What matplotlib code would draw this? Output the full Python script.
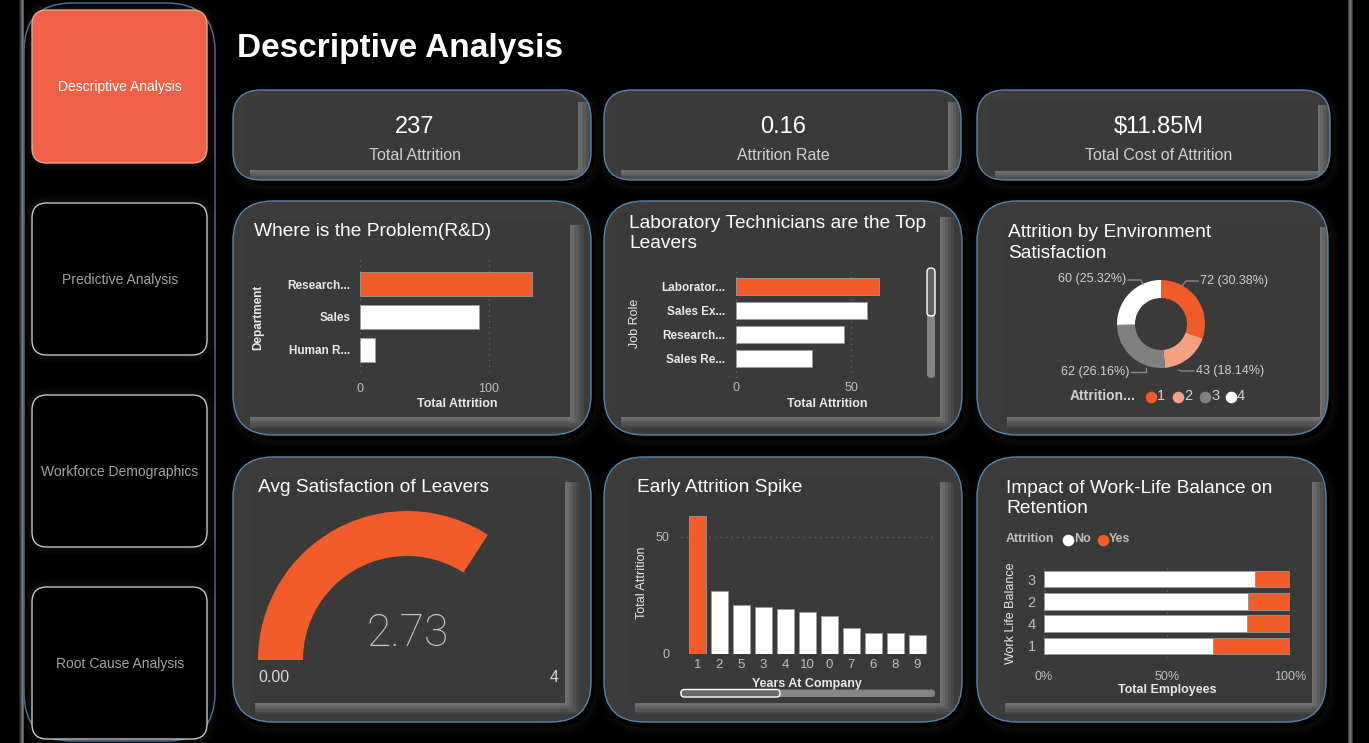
import matplotlib
matplotlib.use('Agg')
import matplotlib.pyplot as plt
from matplotlib.patches import FancyBboxPatch, Rectangle, Wedge
import numpy as np

plt.rcParams['font.family'] = ['Liberation Sans', 'DejaVu Sans']

W, H = 1369, 743
DPI = 100

# ---------------- data ----------------
nav_items = ['Descriptive Analysis', 'Predictive Analysis', 'Workforce Demographics', 'Root Cause Analysis']
page_title = 'Descriptive Analysis'

kpi_values = ['237', '0.16', '$11.85M']
kpi_labels = ['Total Attrition', 'Attrition Rate', 'Total Cost of Attrition']

dept_names = ['Research...', 'Sales', 'Human R...']
dept_attrition = [133, 92, 12]

role_names = ['Laborator...', 'Sales Ex...', 'Research...', 'Sales Re...']
role_attrition = [62, 57, 47, 33]

env_levels = ['1', '2', '3', '4']
env_attrition = [72, 43, 62, 60]

avg_satisfaction = 2.73
gauge_min, gauge_max = 0, 4

years_labels = ['1', '2', '5', '3', '4', '10', '0', '7', '6', '8', '9']
years_attrition = [59, 27, 21, 20, 19, 18, 16, 11, 9, 9, 8]

wlb_levels = ['3', '2', '4', '1']
wlb_no_pct = [85.8, 83.1, 82.4, 68.7]
wlb_yes_pct = [14.2, 16.9, 17.6, 31.3]

# ---------------- colours ----------------
ORANGE = '#F15A29'
SALMON = '#F4A182'
GREY = '#808080'
TICK = '#bdbdbd'
LABEL = '#e8e8e8'
OUTLINE = '#5683ae'

fig = plt.figure(figsize=(W / DPI, H / DPI), dpi=DPI, facecolor='black')
bg = fig.add_axes([0, 0, 1, 1])
bg.set_xlim(0, W)
bg.set_ylim(H, 0)
bg.axis('off')
bg.set_facecolor('black')


def rbox(x0, y0, x1, y1, r, **kw):
    p = FancyBboxPatch((x0, y0), x1 - x0, y1 - y0,
                       boxstyle=f'round,pad=0,rounding_size={r}', **kw)
    bg.add_patch(p)
    return p


def px_axes(x0, y0, x1, y1):
    return fig.add_axes([x0 / W, 1 - y1 / H, (x1 - x0) / W, (y1 - y0) / H])


def glow(x0, y0, x1, y1, r, color=(1, 1, 1), alphas=(0.035, 0.025, 0.018, 0.012, 0.008), dx=0, dy=0):
    for i, a in enumerate(alphas):
        g = 1.5 * (i + 1)
        rbox(x0 - g + dx, y0 - g + dy, x1 + g + dx, y1 + g + dy, r + g,
             facecolor='none', edgecolor=color + (a,), lw=2.2)


def panel(outer, inner, r=40):
    x0, y0, x1, y1 = outer
    glow(x0, y0, x1, y1, r, color=(0.8, 0.8, 0.8), dx=3, dy=5)
    base = rbox(x0, y0, x1, y1, r, facecolor='#3c3c3c', edgecolor='none', zorder=1)
    ix0, iy0, ix1, iy1 = inner
    shades = ['#464646', '#505050', '#5b5b5b', '#666666', '#707070']
    for k, c in enumerate(shades):
        ext = 14 - 3 * k
        rr = Rectangle((ix0 + 5, iy0 + 5), ix1 - ix0 - 5 + ext, iy1 - iy0 - 5 + ext * 0.8,
                       facecolor=c, edgecolor='none', zorder=1.1)
        bg.add_patch(rr)
        rr.set_clip_path(base)
    inn = Rectangle((ix0, iy0), ix1 - ix0, iy1 - iy0, facecolor='#3a3a3a',
                    edgecolor='none', zorder=1.2)
    bg.add_patch(inn)
    inn.set_clip_path(base)
    rbox(x0, y0, x1, y1, r, facecolor='none', edgecolor=OUTLINE, lw=1.0, zorder=1.3)


# side strips
for i, c in enumerate(['#1a1a1a', '#3a3a3a', '#5a5a5a', '#7a7a7a', '#5a5a5a']):
    bg.add_patch(Rectangle((19 + i, 0), 1, H, facecolor=c, edgecolor='none'))
for i, c in enumerate(['#3a3a3a', '#666666', '#7a7a7a', '#555555', '#2a2a2a']):
    bg.add_patch(Rectangle((1348 + i, 0), 1, H, facecolor=c, edgecolor='none'))

# sidebar
rbox(24, 3, 215, 741, 48, facecolor='none', edgecolor='#45698f', lw=1.1)
btn_y = [(10, 163), (203, 355), (395, 547), (587, 739)]
for i, (name, (ya, yb)) in enumerate(zip(nav_items, btn_y)):
    glow(32, ya, 207, yb, 15, color=(0.85, 0.9, 1.0))
    if i == 0:
        rbox(32, ya, 207, yb, 15, facecolor='#EE6146', edgecolor='#f3a090', lw=1)
        col = 'white'
    else:
        rbox(32, ya, 207, yb, 15, facecolor='black', edgecolor='#c8c8c8', lw=1)
        col = '#a3a3a3'
    bg.text(120, (ya + yb) / 2 + 1, name, ha='center', va='center', fontsize=10, color=col)

# page title
bg.text(237, 48, page_title, ha='left', va='center', fontsize=24, fontweight='bold', color='white')

# KPI cards
kpi_outer = [(233, 90, 591, 180), (604, 90, 961, 180), (977, 90, 1330, 180)]
kpi_inner = [(245, 97, 578, 170), (616, 97, 948, 170), (990, 100, 1318, 171)]
kpi_cx = [415, 783, 1159]
for o, inn, cx, v, lab in zip(kpi_outer, kpi_inner, kpi_cx, kpi_values, kpi_labels):
    panel(o, inn, r=28)
    bg.text(cx, 127, v, ha='center', va='center', fontsize=17, color='white', zorder=5)
    bg.text(cx, 156, lab, ha='center', va='center', fontsize=11.5, color='#d0d0d0', zorder=5)

# chart panels
panel((233, 201, 591, 435), (245, 220, 570, 417))
panel((604, 201, 962, 435), (616, 212, 940, 417))
panel((977, 201, 1328, 435), (1002, 222, 1320, 417))
panel((233, 457, 591, 722), (250, 477, 565, 703))
panel((604, 457, 962, 722), (630, 477, 940, 703))
panel((977, 457, 1326, 722), (1000, 477, 1312, 703))

TFS = 13.8
bg.text(254, 232, 'Where is the Problem(R&D)', fontsize=TFS, color='white', va='center', zorder=5)
bg.text(629, 233.5, 'Laboratory Technicians are the Top\nLeavers', fontsize=TFS, color='white',
        va='center', linespacing=1.3, zorder=5)
bg.text(1008, 243, 'Attrition by Environment\nSatisfaction', fontsize=TFS, color='white',
        va='center', linespacing=1.3, zorder=5)
bg.text(258, 488, 'Avg Satisfaction of Leavers', fontsize=TFS, color='white', va='center', zorder=5)
bg.text(637, 488, 'Early Attrition Spike', fontsize=TFS, color='white', va='center', zorder=5)
bg.text(1006, 498.5, 'Impact of Work-Life Balance on\nRetention', fontsize=TFS, color='white',
        va='center', linespacing=1.3, zorder=5)

DOT = (0, (1, 3))


def style(ax):
    ax.set_facecolor('none')
    for s in ax.spines.values():
        s.set_visible(False)
    ax.tick_params(length=0, colors=TICK, labelsize=9)
    ax.set_axisbelow(True)


# ---- chart 1: department ----
ax1 = px_axes(360, 258, 547, 372)
style(ax1)
y1 = np.arange(len(dept_names))
c1 = [ORANGE if i == 0 else 'white' for i in range(len(dept_names))]
ax1.barh(y1, dept_attrition, height=0.74, color=c1, edgecolor='#9a9a9a', lw=0.6)
ax1.set_xlim(0, 145)
ax1.set_ylim(2.67, -0.79)
ax1.set_xticks([0, 100])
ax1.set_yticks(y1, dept_names)
ax1.grid(axis='x', color='#666666', linestyle=DOT, lw=1)
ax1.tick_params(axis='x', pad=8)
ax1.tick_params(axis='y', pad=7, labelsize=8.5, labelcolor=LABEL)
for t in ax1.get_yticklabels():
    t.set_fontweight('bold')
bg.text(457, 404, 'Total Attrition', ha='center', va='center', fontsize=9, fontweight='bold', color=LABEL, zorder=5)
bg.text(258, 317, 'Department', ha='center', va='center', rotation=90, fontsize=8.5, fontweight='bold', color=LABEL, zorder=5)

# ---- chart 2: job role ----
ax2 = px_axes(736, 268, 920, 378)
style(ax2)
y2 = np.arange(len(role_names))
c2 = [ORANGE if i == 0 else 'white' for i in range(len(role_names))]
ax2.barh(y2, role_attrition, height=0.70, color=c2, edgecolor='#9a9a9a', lw=0.6)
ax2.set_xlim(0, 80)
ax2.set_ylim(3.8, -0.75)
ax2.set_xticks([0, 50])
ax2.set_yticks(y2, role_names)
ax2.grid(axis='x', color='#666666', linestyle=DOT, lw=1)
ax2.tick_params(axis='x', pad=3)
ax2.tick_params(axis='y', pad=8, labelsize=8.5, labelcolor=LABEL)
for t in ax2.get_yticklabels():
    t.set_fontweight('bold')
bg.text(827, 404, 'Total Attrition', ha='center', va='center', fontsize=9, fontweight='bold', color=LABEL, zorder=5)
bg.text(635, 323, 'Job Role', ha='center', va='center', rotation=90, fontsize=9, color=LABEL, zorder=5)
# scrollbar
rbox(927, 268, 935, 378, 4, facecolor='#858585', edgecolor='none', zorder=5)
rbox(927, 268, 935, 316, 4, facecolor='#5e5e5e', edgecolor='white', lw=1, zorder=6)

# ---- chart 3: donut ----
ax3 = px_axes(1040, 262, 1280, 386)
ax3.set_facecolor('none')
env_colors = [ORANGE, SALMON, GREY, 'white']
ax3.pie(env_attrition, colors=env_colors, startangle=90, counterclock=False, radius=44,
        wedgeprops=dict(width=18, edgecolor='none'))
ax3.set_aspect('auto')
ax3.set_xlim(1040 - 1161, 1280 - 1161)
ax3.set_ylim(324 - 386, 324 - 262)
ax3.axis('off')
total_env = sum(env_attrition)
env_text = [f'{v} ({v / total_env * 100:.2f}%)' for v in env_attrition]
# leader lines and labels (pixel offsets from centre, y up)
lines = [([21, 25, 37], [38, 43, 43]), ([18, 20, 33], [-46, -47, -47]),
         ([-15, -15, -30], [-44, -48, -48]), ([-18, -20, -33], [40, 44, 44])]
pos = [(39, 43, 'left'), (35, -47, 'left'), (-32, -48, 'right'), (-35, 45, 'right')]
for (lx, ly), (tx, ty, ha), txt in zip(lines, pos, env_text):
    ax3.plot(lx, ly, color='#8a8a8a', lw=1)
    ax3.text(tx, ty, txt, ha=ha, va='center', fontsize=9, color='#d0d0d0')
bg.text(1070, 396.5, 'Attrition...', ha='left', va='center', fontsize=10, fontweight='bold', color='#d0d0d0', zorder=5)
for xm, lvl, col in zip([1151, 1178, 1205, 1231], env_levels, env_colors):
    bg.scatter([xm], [396.5], s=70, color=col, zorder=5, linewidths=0)
    bg.text(xm + 6, 396.5, lvl, ha='left', va='center', fontsize=10.5, color='#d0d0d0', zorder=5)

# ---- chart 4: gauge ----
ax4 = px_axes(253, 505, 561, 665)
ax4.set_xlim(-154, 154)
ax4.set_ylim(-5, 155)
ax4.axis('off')
frac = (avg_satisfaction - gauge_min) / (gauge_max - gauge_min)
ax4.add_patch(Wedge((0, 0), 149, 180 * (1 - frac), 180, width=45, facecolor=ORANGE, edgecolor='none'))
bg.text(408, 634, f'{avg_satisfaction:.2f}', ha='center', va='center', fontsize=32,
        family=['Roboto', 'DejaVu Sans'], fontweight='light', color='#c8c8c8', zorder=5)
bg.text(258, 677, f'{gauge_min:.2f}', ha='left', va='center', fontsize=11.5, color='#d8d8d8', zorder=5)
bg.text(559, 677, f'{gauge_max}', ha='right', va='center', fontsize=11.5, color='#d8d8d8', zorder=5)

# ---- chart 5: years at company ----
ax5 = px_axes(681, 511, 934, 654)
style(ax5)
x5 = np.arange(len(years_labels))
c5 = [ORANGE if i == 0 else 'white' for i in range(len(years_labels))]
ax5.bar(x5, years_attrition, width=0.78, color=c5, edgecolor='#9a9a9a', lw=0.6)
ax5.set_xlim(-0.75, 10.77)
ax5.set_ylim(0, 61)
ax5.set_yticks([0, 50])
ax5.set_xticks(x5, years_labels)
ax5.grid(axis='y', color='#666666', linestyle=DOT, lw=1)
ax5.tick_params(axis='x', pad=3.5, labelsize=9.5)
ax5.tick_params(axis='y', pad=8, labelsize=9)
bg.text(807, 683.5, 'Years At Company', ha='center', va='center', fontsize=9, fontweight='bold', color=LABEL, zorder=5)
bg.text(642, 583, 'Total Attrition', ha='center', va='center', rotation=90, fontsize=9, color=LABEL, zorder=5)
rbox(680, 689.5, 935, 697, 3.5, facecolor='#858585', edgecolor='none', zorder=5)
rbox(681, 689.5, 780, 697, 3.5, facecolor='#6a6a6a', edgecolor='white', lw=1, zorder=6)

# ---- chart 6: work-life balance ----
ax6 = px_axes(1044, 565, 1290, 658)
style(ax6)
y6 = np.arange(len(wlb_levels))
ax6.barh(y6, wlb_no_pct, height=0.74, color='white', edgecolor='#9a9a9a', lw=0.6)
ax6.barh(y6, wlb_yes_pct, left=wlb_no_pct, height=0.74, color=ORANGE, edgecolor='#9a9a9a', lw=0.6)
ax6.set_xlim(0, 100)
ax6.set_ylim(3.54, -0.63)
ax6.set_xticks([0, 50, 100], ['0%', '50%', '100%'])
ax6.set_yticks(y6, wlb_levels)
ax6.grid(axis='x', color='#666666', linestyle=DOT, lw=1)
ax6.tick_params(axis='x', pad=9, labelsize=9)
ax6.tick_params(axis='y', pad=6, labelsize=10.5)
bg.text(1167, 690.5, 'Total Employees', ha='center', va='center', fontsize=9, fontweight='bold', color=LABEL, zorder=5)
bg.text(1011, 613, 'Work Life Balance', ha='center', va='center', rotation=90, fontsize=9, color=LABEL, zorder=5)
bg.text(1006, 539.5, 'Attrition', ha='left', va='center', fontsize=9, fontweight='bold', color='#bdbdbd', zorder=5)
bg.scatter([1068], [539.5], s=70, color='white', zorder=5, linewidths=0)
bg.text(1074, 539.5, 'No', ha='left', va='center', fontsize=9, fontweight='bold', color='#bdbdbd', zorder=5)
bg.scatter([1102.5], [539.5], s=70, color=ORANGE, zorder=5, linewidths=0)
bg.text(1109, 539.5, 'Yes', ha='left', va='center', fontsize=9, fontweight='bold', color='#bdbdbd', zorder=5)

fig.savefig('out.png', dpi=DPI, facecolor='black')
